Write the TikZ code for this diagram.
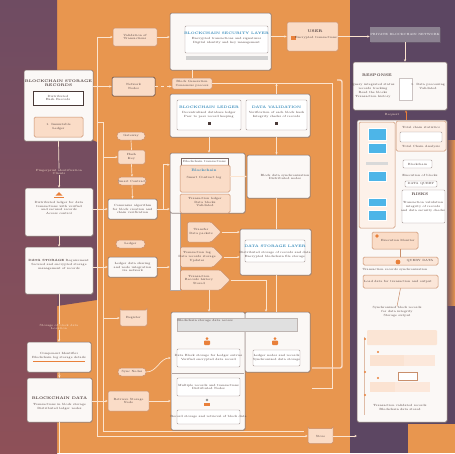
\documentclass[tikz,border=0pt]{standalone}
\usetikzlibrary{fit,shapes.symbols,shapes.misc,shadows,arrows.meta}
\definecolor{bgorange}{HTML}{E8964F}
\definecolor{bgpurple}{HTML}{6F4C62}
\definecolor{bgrose}{HTML}{8E5058}
\definecolor{bgdeep}{HTML}{5C4662}
\definecolor{cardwhite}{HTML}{FBF8F6}
\definecolor{cardline}{HTML}{7D6A66}
\definecolor{peach}{HTML}{FADCC7}
\definecolor{peachline}{HTML}{C98F6C}
\definecolor{inkc}{HTML}{4A3A38}
\definecolor{titleblue}{HTML}{2E86B8}
\definecolor{screenblue}{HTML}{4DB5E8}
\definecolor{wirec}{HTML}{FCE4CF}
\definecolor{accent}{HTML}{E9803A}
\definecolor{bannergray}{HTML}{8C8291}
\begin{document}
\begin{tikzpicture}[x=1pt,y=-1pt,line width=0.5pt,every node/.style={inner sep=0pt},
  card/.style={draw=cardline,fill=cardwhite,rounded corners=1.5pt,drop shadow={shadow xshift=0.6pt,shadow yshift=-0.8pt,opacity=0.3}},
  innerbox/.style={draw=cardline!70,fill=white,rounded corners=1pt,line width=0.4pt},
  peachbox/.style={draw=peachline,fill=peach,rounded corners=1.5pt},
  pill/.style={peachbox,rounded corners=3.5pt},
  screen/.style={fill=screenblue,draw=white,line width=0.4pt},
  txt/.style={font=\fontsize{3}{3.9}\selectfont,text=inkc,align=center},
  ttl/.style={font=\fontsize{3.7}{4.4}\selectfont\bfseries,text=inkc,align=center},
  bluettl/.style={font=\fontsize{3.5}{4.2}\selectfont\bfseries,text=titleblue,align=center},
  wire/.style={draw=wirec,line width=0.7pt},
  link/.style={wire,-{Stealth[length=2.5pt,width=2.2pt]}}]
\useasboundingbox (0,0) rectangle (455,453);
% backdrop
\fill[bgorange] (0,0) rectangle (455,453);
\shade[top color=bgpurple,bottom color=bgrose] (0,0) rectangle (57,453);
\fill[bgpurple!80!bgrose] (57,125) -- (97,142) -- (97,300) -- (57,306) -- cycle;
\fill[bgdeep] (350,0) rectangle (455,453);
\shade[left color=bgdeep,right color=bgorange] (444,140) rectangle (455,305);
\fill[bgorange] (408,424) rectangle (455,453);
% coordinates for the trunks and rails
\coordinate (trunkTop) at (97,37);
\coordinate (trunkBot) at (97,436);
\coordinate (trunk2Top) at (103,122);
\coordinate (trunk2Bot) at (103,431);
\coordinate (trunk2End) at (304,431);
\coordinate (brk) at (163,0);
\coordinate (p3turn) at (266,0);
\coordinate (railA) at (332,83.5);
\coordinate (railEnd) at (312,388);
\coordinate (chainEnd) at (59.5,453);
\coordinate (hexOut) at (357,436);
% left column
\node[card,fit={(24,70) (93,141)}] (store) {};
\node[ttl] (storeT) at (58.5,83) {BLOCKCHAIN STORAGE\\RECORDS};
\node[draw=inkc,fill=white,line width=0.6pt,fit={(33,91) (83,105)}] (storeH) {};
\node[txt] (storeHt) at (storeH) {Distributed\\Hash Records};
\node[peachbox,fit={(34,117) (83,137)}] (storeL) {};
\node[txt] (storeLt) at (storeL) {1. Immutable\\Ledger};
\node[txt,text=wirec] (fingerT) at (59,172) {Fingerprint identification\\Clients};
\node[card,fit={(25,188) (93,236)}] (ledger) {};
\fill[accent] (54,196.5) rectangle (64,197.6);
\fill[accent] (55.5,195.5) -- (59,192) -- (62.5,195.5) -- cycle;
\node[txt] (ledgerT) at (59,208) {Distributed ledger for data\\transactions with verified\\and secured records\\Access control};
\node[card,fit={(25,247) (93,294)}] (needs) {};
\node[txt] (needsT) at (59,265) {\textbf{DATA STORAGE} Requirement:\\Secured and encrypted storage\\management of records};
\node[txt,text=wirec] (locT) at (59,327) {Storage of block data\\Location};
\node[card,fit={(27,342) (91,372)}] (ident) {};
\node[txt] (identT) at (59,356) {Component Identifier\\Blockchain log storage details};
\draw[accent,line width=0.6pt] (33,361) -- (85,361);
\node[card,fit={(27,378) (92,422)}] (chain) {};
\node[ttl] (chainT) at (59.5,398) {BLOCKCHAIN DATA};
\node[txt] (chainS) at (59.5,406.5) {Transactions in block storage\\Distributed ledger nodes};
% small column
\node[peachbox,fit={(113,28) (157,46)}] (valid) {};
\node[txt] (validT) at (valid) {Validation of\\Transactions};
\node[peachbox,draw=inkc,fit={(112,77) (155,96)}] (nodes) {};
\node[txt] (nodesT) at (nodes) {Network\\Nodes};
\node[pill,fit={(117,132) (145,140)}] (gate) {};
\node[txt] (gateT) at (gate) {Gateway};
\node[peachbox,fit={(118,150) (145,164)}] (hash) {};
\node[txt] (hashT) at (hash) {Hash\\Key};
\node[pill,fit={(118,177) (146,185)}] (smart) {};
\node[txt] (smartT) at (smart) {Smart Contract};
\node[card,fit={(108,199) (157,219)}] (consensus) {};
\node[txt] (consensusT) at (consensus) {Consensus algorithm\\for block creation and\\chain verification};
\node[pill,fit={(116,240) (145,248)}] (ledgerP) {};
\node[txt] (ledgerPT) at (ledgerP) {Ledger};
\node[card,fit={(108,257) (157,277)}] (share) {};
\node[txt] (shareT) at (share) {Ledger data sharing\\and node integration\\via network};
\node[peachbox,chamfered rectangle,chamfered rectangle xsep=3pt,chamfered rectangle ysep=3pt,minimum width=27pt,minimum height=16pt] (reg) at (133.5,318) {};
\node[txt] (regT) at (reg) {Register};
\node[pill,fit={(118,368) (146,376)}] (sync) {};
\node[txt] (syncT) at (sync) {Sync Nodes};
\node[peachbox,fit={(108,391) (149,411)}] (retr) {};
\node[txt] (retrT) at (retr) {Retrieve Storage\\Node};
% middle top
\node[card,fit={(170,13) (271,70)}] (sec) {};
\node[innerbox,fit={(185,26) (268,53)}] (secIn) {};
\node[bluettl] (secT) at (226.5,33) {BLOCKCHAIN SECURITY LAYER};
\node[txt] (secS) at (226.5,41) {Encrypted transactions and signatures\\Digital identity and key management};
\node[fill=black!18,fit={(186,56) (268,60)}] (secBar) {};
\node[peachbox,fit={(172,78) (212,89)}] (gen) {};
\node[txt] (genT) at (gen) {Block Generation\\Consensus process};
\node[card,fit={(170,94) (310,137)}] (core) {};
\node[innerbox,fit={(177,100) (241,130)}] (coreL) {};
\node[bluettl] (coreLT) at (209,107) {BLOCKCHAIN LEDGER};
\node[txt] (coreLS) at (209,115) {Decentralized database ledger\\Peer to peer record keeping};
\fill[inkc] (207.5,121.5) rectangle (210.5,124.5);
\node[innerbox,fit={(246,100) (307,130)}] (coreR) {};
\node[bluettl] (coreRT) at (276.5,107) {DATA VALIDATION};
\node[txt] (coreRS) at (276.5,115) {Verification of each block hash\\Integrity checks of records};
\fill[inkc] (275,121.5) rectangle (278,124.5);
% top right
\node[peachbox,fit={(287,22) (338,51)}] (user) {};
\fill[accent] (290.5,35.5) rectangle (295.5,39.5);
\node[ttl] (userT) at (315,31) {USER};
\node[txt] (userS) at (316,38) {Encrypted transactions};
\node[fill=bannergray,fit={(370,27) (440,42)},drop shadow={shadow xshift=0.6pt,shadow yshift=-0.8pt,opacity=0.3}] (net) {};
\node[txt,text=white] (netT) at (net) {PRIVATE BLOCKCHAIN NETWORK};
\node[card,fit={(353,62) (447,110)}] (resp) {};
\node[ttl] (respT) at (377,75) {RESPONSE};
\node[txt] (respL) at (373,91) {Query integrated status\\records tracking\\Read the blocks\\Transaction history};
\node[draw=cardline!40,fill=white,fit={(399,78) (412,100)}] (respDoc) {};
\node[txt] (respR) at (428,86.5) {1. Data processing\\Validated};
\node[txt,text=wirec] (reqT) at (392,115) {Request};
% right panel
\node[card,fit={(357,120) (447,422)}] (panel) {};
\node[peachbox,fill=peach!40,fit={(359,122) (395,228)}] (screens) {};
\foreach \ya/\yb [count=\i] in {128/140,143/153,171/181,198/206,210/220}
  \node[screen,fit={(368,\ya) (386,\yb)}] (scr\i) {};
\fill[black!15] (366,162) rectangle (388,165);
\node[peachbox,fill=peach!45,fit={(396,121) (446,151)}] (stat) {};
\node[txt] (statT) at (421,127) {Total chain statistics};
\node[innerbox,fit={(400,132) (442,142)}] (statIn) {};
\node[txt] (statS) at (421,147) {Total Chain Analysis};
\node[innerbox,fit={(403,160) (432,168)}] (bc) {};
\node[txt] (bcT) at (bc) {Blockchain};
\node[txt] (execS) at (420,175) {Execution of blocks};
\node[innerbox,fit={(405,181) (437,187)}] (dq) {};
\node[txt] (dqT) at (dq) {DATA QUERY};
\node[innerbox,fit={(402,190) (445,223)}] (risk) {};
\node[ttl] (riskT) at (420,194) {RISKS};
\node[txt] (riskS) at (423,207) {Transaction validation\\integrity of records\\and data security checks};
\node[peachbox,fit={(372,232) (418,249)}] (exec) {};
\fill[accent] (377,236) circle (1.8);
\node[txt] (execT) at (398,240.5) {Execution Monitor};
\node[peachbox,fill=peach!70,fit={(363,257) (438,265)}] (qbar) {};
\fill[accent] (398,262) circle (2.4);
\node[txt] (qbarT) at (420,261) {QUERY DATA};
\node[txt] (qbarS) at (395,269.5) {Transaction records synchronization};
\node[peachbox,fill=peach!70,fit={(363,275) (438,288)}] (obar) {};
\node[txt] (obarT) at (398,281.5) {Load data for transaction and output};
\node[txt] (outT) at (397,312) {Synchronized block records\\for data integrity\\Storage output};
\node[fill=peach!75,rounded corners=1pt,fit={(367,330) (437,345)}] (blk) {};
\node[fill=peach!80,fit={(370,355) (404,366)}] (rowA) {};
\node[fill=peach!65,fit={(404,355) (435,366)}] (rowB) {};
\node[draw=peachline,fill=white,fit={(398,372) (417,380)}] (rowC) {};
\node[fill=peach!80,fit={(370,382) (395,392)}] (rowD) {};
\node[fill=peach!65,fit={(395,382) (430,392)}] (rowE) {};
\node[txt] (panelEnd) at (400,407.5) {Transaction validated records\\Blockchain data stored};
\draw[peachline!60,line width=0.4pt] (364,337) -- (364,415);
\foreach \yy in {339,372,395} \fill[accent] (365,\yy) circle (1.2);
\foreach \yy in {352,378} \fill[accent] (378,\yy) circle (1.2);
% middle
\node[fill=cardwhite,draw=cardline!60,fit={(170,212) (180,290)}] (txnStrip) {};
\node[card,fit={(170,153) (245,213)}] (txn) {};
\node[draw=cardline,fill=white,fit={(181,158) (228,165)}] (tab) {};
\node[txt] (tabT) at (tab) {Blockchain transactions};
\node[peachbox,fit={(180,165) (230,192)}] (txnA) {};
\node[bluettl] (txnAT) at (204,170.5) {Blockchain};
\node[txt] (txnAS) at (204,178) {Smart Contract log};
\node[peachbox,fit={(180,194) (230,213)}] (txnB) {};
\node[txt] (txnBT) at (205,202) {Transaction ledger\\Data blocks\\Validated};
\node[card,fit={(247,155) (310,198)}] (syncBox) {};
\node[txt] (syncBoxT) at (285,177) {Block data synchronization\\Distributed nodes};
\node[peachbox,signal,signal to=east,minimum width=34pt,minimum height=20pt,anchor=west] (p1) at (187,232) {};
\node[txt] (p1T) at (201,232) {Transfer\\Data packets};
\node[peachbox,signal,signal to=east,minimum width=43pt,minimum height=20pt,anchor=west] (p2) at (180,257) {};
\node[txt] (p2T) at (197,257) {Transaction log\\Data records storage\\Updates};
\node[peachbox,signal,signal to=east,minimum width=50pt,minimum height=20pt,anchor=west] (p3) at (180,280) {};
\node[txt] (p3T) at (199,280) {Transaction\\Records history\\Stored};
\node[card,fit={(240,229) (311,275)}] (layer) {};
\node[innerbox,fit={(245,240) (305,262)}] (layerIn) {};
\node[bluettl] (layerT) at (275,246) {DATA STORAGE LAYER};
\node[txt] (layerS) at (275,254.5) {Distributed storage of records and data\\Encrypted blockchain file storage};
% bottom
\node[card,fit={(171,312) (245,430)}] (access) {};
\node[card,fit={(245,312) (310,372)}] (record) {};
\node[fill=black!12,draw=cardline!50,fit={(177,318) (297,331)}] (accBar) {};
\node[txt] (accBarT) at (205,321) {Blockchain storage data access};
\fill[accent] (207,338.5) circle (1.5);
\fill[accent,rounded corners=0.8pt] (204,340.5) rectangle (210,345);
\fill[accent] (275,338.5) circle (1.5);
\fill[accent,rounded corners=0.8pt] (272,340.5) rectangle (278,345);
\node[innerbox,fit={(177,349) (240,367)}] (accA) {};
\node[txt] (accAT) at (accA) {Data Block storage for Ledger entries\\Verified encrypted data record};
\draw[cardline!60,line width=0.4pt] (172,373) -- (244,373);
\node[innerbox,fit={(177,378) (240,396)}] (accB) {};
\node[txt] (accBT) at (accB) {Multiple records and transactions\\Distributed Nodes};
\fill[black!45] (207,400) circle (1.3);
\fill[accent] (204,402.5) rectangle (210,405.5);
\node[innerbox,fit={(177,410) (240,424)}] (accC) {};
\node[txt] (accCT) at (accC) {Record storage and retrieval of block data};
\node[innerbox,fit={(253,350) (300,366)}] (recIn) {};
\node[txt] (recInT) at (recIn) {Ledger nodes and records\\Synchronized data storage};
\node[peachbox,chamfered rectangle,chamfered rectangle xsep=3pt,chamfered rectangle ysep=3pt,minimum width=25pt,minimum height=15pt] (hexStore) at (320.5,436) {};
\node[txt] (hexT) at (hexStore) {Store};
% connectors, left column
\draw[wire] (store.south) -- (fingerT.north);
\draw[link] (fingerT.south) -- (ledger.north);
\draw[link] (ledger.south) -- (needs.north);
\draw[wire] (needs.south) -- (locT.north);
\draw[link] (locT.south) -- (ident.north);
\draw[link] (ident.south) -- (chain.north);
\draw[wire] (chain.south) -- (chainEnd);
% trunks
\draw[wire] (trunkTop) -- (trunkBot);
\draw[link] (trunkBot) -- (hexStore.west);
\draw[wire] (trunk2Top -| trunkTop) -- (trunk2Top) -- (trunk2Bot) -- (trunk2End);
\draw[link] (trunkTop) -- (valid.west);
\draw[link] (store.east |- nodes.west) -- (nodes.west);
\draw[link] (trunk2Top |- hash.west) -- (hash.west);
\draw[wire] (gate.south) -- (hash.north);
\draw[link] (hash.south) -- (smart.north);
\draw[link] (smart.south) -- (consensus.north);
\draw[link] (ledger.east |- consensus.west) -- (consensus.west);
\draw[link] (needs.east |- share.west) -- (share.west);
\draw[link] (trunk2Top |- reg.west) -- (reg.west);
\draw[link] (chain.east |- retr.west) -- (retr.west);
% connectors, middle
\draw[link] (valid.east) -- (sec.west |- valid.east);
\draw[link,dashed] (nodes.east) -- (gen.west |- nodes.east);
\draw[wire] (gen.north |- sec.south) -- (gen.north);
\draw[wire] (gen.east) -- (railA) -- (railA |- railEnd) -- (railEnd);
\draw[draw=peach,line width=1.4pt,rounded corners=2pt] (337,80) -- (342,80) -- (342,368) -- (312,368);
\draw[link] (coreR.north |- core.north) -- (coreR.north |- gen.east);
\draw[link] (sec.east |- user.west) -- (user.west);
\draw[link] (user.east) -- (net.west |- user.east);
\draw[link] (net.south) -- (net.south |- resp.north);
\draw[accent,line width=0.7pt,-{Stealth[length=2.5pt,width=2.2pt]}] ([xshift=4pt]panel.north) -- ([xshift=4pt]panel.north |- resp.south);
\draw[link] (core.south -| coreL.south) -- (coreL.south |- txn.north);
\draw[link] (core.south -| coreR.south) -- (coreR.south |- syncBox.north);
\draw[link] (txnA.east |- syncBox.west) -- (syncBox.west);
\draw[link] (consensus.east) -- (txn.west |- consensus.east);
\draw[link] (consensus.east -| brk) |- (txn.west |- txnA.north);
\draw[link] (share.east) -- (txnStrip.west |- share.east);
\draw[link] (p1.east) -- (layer.west |- p1.east);
\draw[link] (p2.east) -- (layer.west |- p2.east);
\draw[wire] (syncBox.south -| coreR.south) -- (coreR.south |- layer.north);
\draw[wire] (layer.south -| coreR.south) -- (coreR.south |- record.north);
\draw[link] (coreL.south |- p3.south) -- (coreL.south |- access.north);
\draw[link] (p3.east) -| (p3turn |- record.north);
\draw[link] (sync.east) to[out=0,in=180] (access.west |- accA.west);
\draw[link] (retr.east) -- (access.west |- retr.east);
\draw[link] (hexStore.east) -- (hexOut);
% connectors, right panel
\draw[peachline,line width=0.5pt] (exec.south -| qbar.north) -- (qbar.north);
\draw[peachline,line width=0.5pt] (obar.south) -- (outT.north);
\end{tikzpicture}
\end{document}
